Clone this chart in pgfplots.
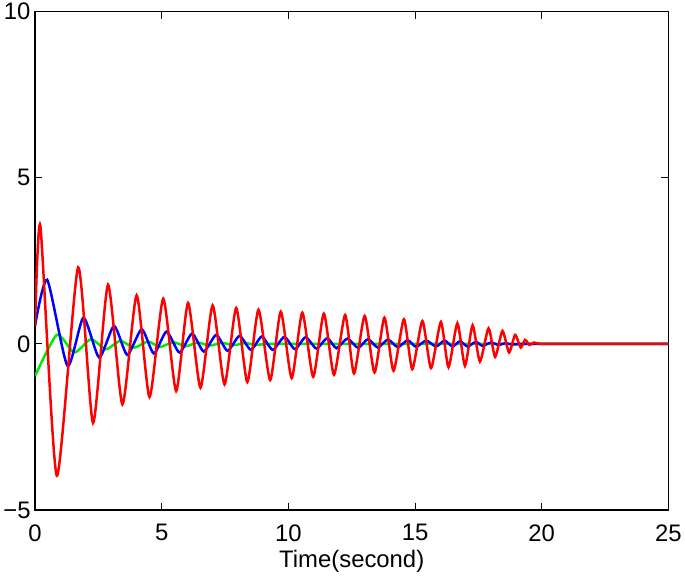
\documentclass[border=0pt]{standalone}
\usepackage{fontspec}
\setmainfont{Liberation Sans}
\usepackage{pgfplots}
\pgfplotsset{compat=1.18}
\begin{document}
\begin{tikzpicture}
\begin{axis}[
  scale only axis, width=637pt, height=501pt,
  xmin=0, xmax=25, ymin=-5, ymax=10,
  xtick={0,5,10,15,20,25}, xticklabels={0,5,10,15,20,25},
  ytick={-5,0,5,10}, yticklabels={−5,0,5,10},
  tick align=inside, major tick length=7pt,
  tick style={black, line width=0.8pt},
  axis line style={black, line width=1.2pt},
  font=\fontsize{24}{28}\selectfont,
  xticklabel style={yshift=-11pt},
  yticklabel style={xshift=-1pt},
  xlabel={Time(second)},
  xlabel style={at={(axis description cs:0.5,0)}, anchor=base, yshift=-58pt},
  every axis plot/.append style={line width=2.5pt, smooth, tension=0.38},
]
% green
\addplot[color={rgb,255:red,0;green,235;blue,0}] coordinates {
(0,-0.97) (0.86,0.27) (1.55,-0.26) (2.20,0.14) (2.80,-0.16) (3.36,0.09)
(3.92,-0.11) (4.45,0.07) (4.94,-0.09) (5.45,0.05) (5.95,-0.07) (6.43,0.04)
(6.90,-0.05) (7.38,0.03) (7.83,-0.04) (8.30,0.02) (8.74,-0.03) (9.3,0) (12,0) (25,0)
};
% blue
\addplot[color={rgb,255:red,0;green,0;blue,255}] coordinates {
(0,0.55) (0.48,1.93) (1.28,-0.66) (1.91,0.79) (2.53,-0.41) (3.12,0.54)
(3.64,-0.33) (4.21,0.44) (4.69,-0.29) (5.19,0.37) (5.70,-0.26) (6.20,0.31)
(6.66,-0.23) (7.15,0.27) (7.60,-0.21) (8.07,0.24) (8.52,-0.18) (8.95,0.22)
(9.38,-0.18) (9.84,0.21) (10.26,-0.16) (10.68,0.20) (11.11,-0.14) (11.53,0.17)
(11.90,-0.13) (12.33,0.16) (12.75,-0.12) (13.14,0.14) (13.53,-0.11) (13.93,0.13)
(14.32,-0.10) (14.71,0.11) (15.04,-0.09) (15.44,0.10) (15.83,-0.08) (16.16,0.10)
(16.48,-0.08) (16.77,0.08) (17.07,-0.08) (17.40,0.06) (17.66,-0.06) (17.99,0.04)
(18.29,-0.03) (18.57,0.02) (18.84,-0.02) (19.3,0) (21,0) (25,0)
};
% red
\addplot[color={rgb,255:red,255;green,0;blue,0}] coordinates {
(0,0.55) (0.21,3.55) (0.86,-3.97) (1.70,2.30) (2.29,-2.38) (2.88,1.78)
(3.45,-1.82) (4.01,1.46) (4.52,-1.60) (5.06,1.36) (5.57,-1.42) (6.04,1.23)
(6.53,-1.32) (7.01,1.16) (7.48,-1.22) (7.94,1.08) (8.38,-1.15) (8.82,1.03)
(9.28,-1.09) (9.70,0.97) (10.13,-1.03) (10.55,0.94) (10.98,-0.99) (11.40,0.91)
(11.80,-0.93) (12.24,0.87) (12.59,-0.89) (13.01,0.84) (13.40,-0.86) (13.79,0.79)
(14.15,-0.81) (14.56,0.74) (14.89,-0.76) (15.29,0.69) (15.63,-0.73) (16.02,0.66)
(16.32,-0.70) (16.67,0.62) (16.97,-0.66) (17.27,0.56) (17.56,-0.53) (17.90,0.47)
(18.16,-0.39) (18.45,0.39) (18.71,-0.26) (18.95,0.27) (19.17,-0.11) (19.34,0.12)
(19.52,-0.03) (19.69,0.04) (19.95,0) (21,0) (25,0)
};
\end{axis}
\path (current axis.south west) ++(-34pt,-65pt) rectangle ++(685pt,576pt);
\end{tikzpicture}
\end{document}
